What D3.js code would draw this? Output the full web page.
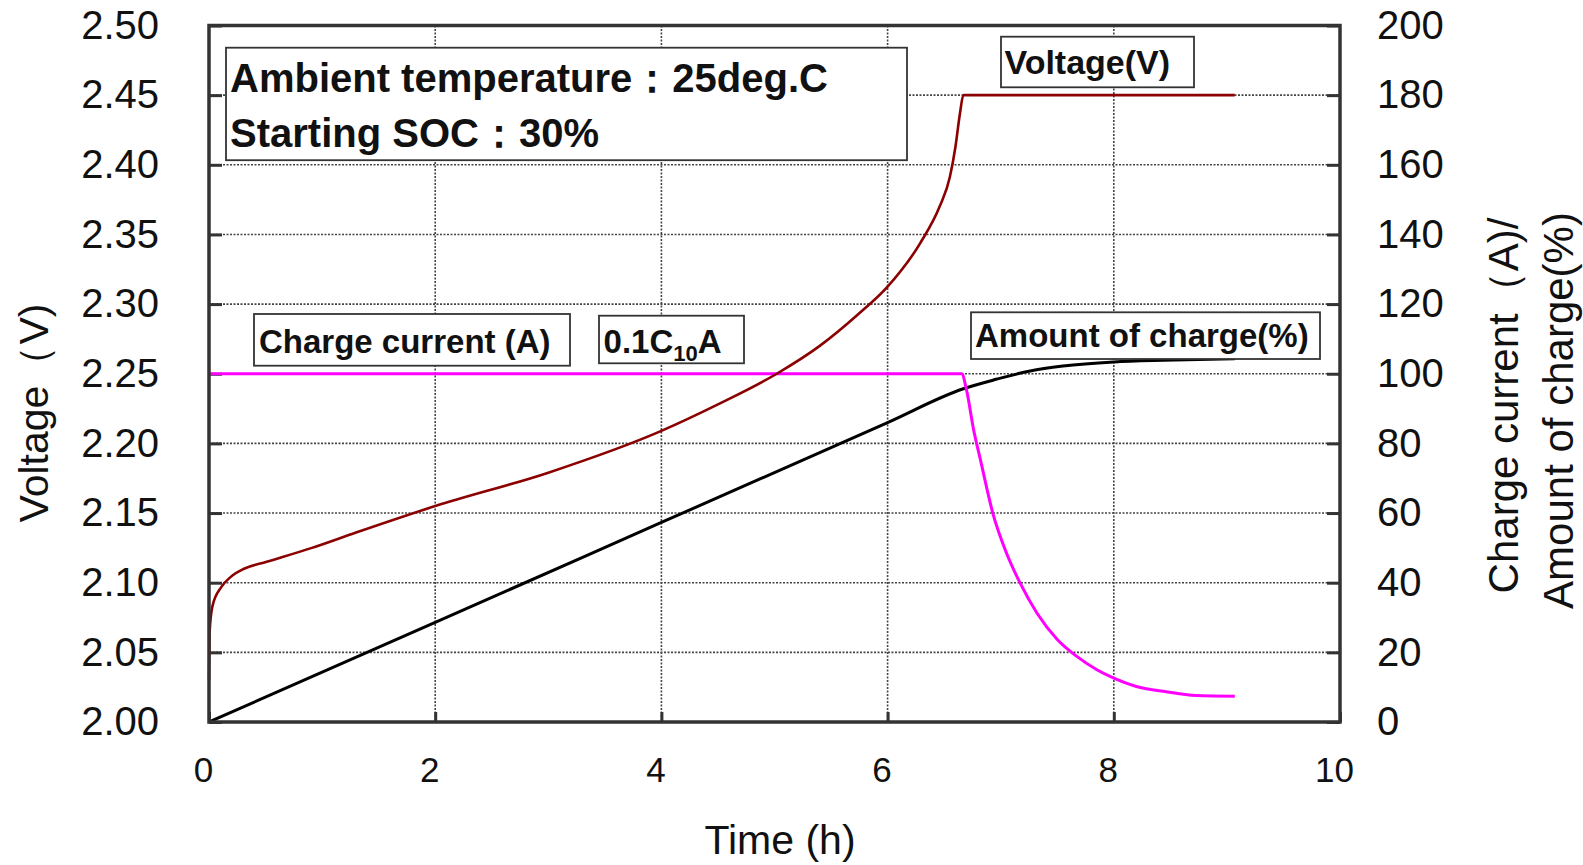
<!DOCTYPE html>
<html>
<head>
<meta charset="utf-8">
<script src="https://cdn.jsdelivr.net/npm/d3@7"></script>
<style>
  body { margin: 0; background: #fff; }
  text { font-family: "Liberation Sans", Arial, sans-serif; fill: #111; }
  .box-text { font-weight: bold; }
</style>
</head>
<body>
<div id="chart"></div>
<script>
// Voltage curve (h, V) - left axis
var voltTime = [0, 0.005, 0.03, 0.11, 0.19, 0.31, 0.51, 0.91, 1.3, 2.0, 3.0, 4.0, 4.5, 5.02, 5.4, 5.73, 6.0, 6.29, 6.46, 6.55, 6.6, 6.64, 6.67, 9.07];
var voltage  = [2.030, 2.064, 2.083, 2.097, 2.104, 2.110, 2.115, 2.125, 2.136, 2.155, 2.179, 2.209, 2.228, 2.250, 2.270, 2.292, 2.3125, 2.344, 2.370, 2.391, 2.413, 2.437, 2.450, 2.450];

// Charge current (h, A) - right axis
var currentTime = [0, 6.655, 6.70, 6.76, 6.82, 6.93, 7.05, 7.17, 7.32, 7.50, 7.67, 7.85, 8.0, 8.2, 8.44, 8.73, 9.07];
var current     = [100, 100, 95, 84, 75.4, 60, 48.6, 40, 31.3, 23.7, 18.9, 15.0, 12.6, 10.2, 8.8, 7.6, 7.4];

// Amount of charge (h, %) - right axis
var chargeTime = [0, 2, 4, 6, 6.67, 6.96, 7.26, 7.55, 8.0, 8.44, 9.07];
var charge     = [0, 28.6, 57.3, 86.0, 95.7, 98.4, 100.8, 102.2, 103.4, 103.9, 104.3];

// Tick values
var xTicks = [0, 2, 4, 6, 8, 10];
var leftTicks = [2.00, 2.05, 2.10, 2.15, 2.20, 2.25, 2.30, 2.35, 2.40, 2.45, 2.50];
var rightTicks = [0, 20, 40, 60, 80, 100, 120, 140, 160, 180, 200];

var svgWidth = 1583;
var svgHeight = 865;

var margin = {
  top: 25.5,
  right: 243,
  bottom: 143,
  left: 209
};

var width = svgWidth - margin.left - margin.right;
var height = svgHeight - margin.top - margin.bottom;

var svg = d3.select("#chart")
  .append("svg")
  .attr("width", svgWidth)
  .attr("height", svgHeight);

var chartGroup = svg.append("g")
  .attr("transform", `translate(${margin.left}, ${margin.top})`);

// scales
var xScale = d3.scaleLinear().domain([0, 10]).range([0, width]);
var yLeft = d3.scaleLinear().domain([2.0, 2.5]).range([height, 0]);
var yRight = d3.scaleLinear().domain([0, 200]).range([height, 0]);

// dotted grid
var grid = chartGroup.append("g").attr("class", "grid");
grid.selectAll(".hgrid")
  .data(leftTicks.slice(1, -1))
  .enter()
  .append("line")
  .attr("x1", 0)
  .attr("x2", width)
  .attr("y1", d => yLeft(d))
  .attr("y2", d => yLeft(d))
  .attr("stroke", "#444")
  .attr("stroke-width", 1.6)
  .attr("stroke-dasharray", "2,1.5");

grid.selectAll(".vgrid")
  .data(xTicks.slice(1, -1))
  .enter()
  .append("line")
  .attr("x1", d => xScale(d))
  .attr("x2", d => xScale(d))
  .attr("y1", 0)
  .attr("y2", height)
  .attr("stroke", "#444")
  .attr("stroke-width", 1.6)
  .attr("stroke-dasharray", "2,1.5");

// axes (inner ticks)
var leftAxis = d3.axisLeft(yLeft)
  .tickValues(leftTicks)
  .tickFormat(d3.format(".2f"))
  .tickSize(-13)
  .tickPadding(50);

var rightAxis = d3.axisRight(yRight)
  .tickValues(rightTicks)
  .tickFormat(d3.format("d"))
  .tickSize(-13)
  .tickPadding(37);

var bottomAxis = d3.axisBottom(xScale)
  .tickValues(xTicks)
  .tickFormat(d3.format("d"))
  .tickSize(-10)
  .tickPadding(35);

function styleAxis(g, size) {
  g.select(".domain").remove();
  g.selectAll(".tick line").attr("stroke", "#333").attr("stroke-width", 3);
  g.selectAll(".tick text")
    .attr("font-size", size + "px")
    .attr("fill", "#111");
}

var yAxisL = chartGroup.append("g").call(leftAxis);
styleAxis(yAxisL, 40);

var yAxisR = chartGroup.append("g")
  .attr("transform", `translate(${width}, 0)`)
  .call(rightAxis);
styleAxis(yAxisR, 40);

var xAxis = chartGroup.append("g")
  .attr("transform", `translate(0, ${height})`)
  .call(bottomAxis);
styleAxis(xAxis, 35);
xAxis.selectAll(".tick text").attr("dx", -6);

// lines
var voltData = voltTime.map((t, i) => [t, voltage[i]]);
var currentData = currentTime.map((t, i) => [t, current[i]]);
var chargeData = chargeTime.map((t, i) => [t, charge[i]]);

var voltLine = d3.line()
  .x(d => xScale(d[0]))
  .y(d => yLeft(d[1]))
  .curve(d3.curveMonotoneX);

var rightLine = d3.line()
  .x(d => xScale(d[0]))
  .y(d => yRight(d[1]))
  .curve(d3.curveMonotoneX);

chartGroup.append("path")
  .datum(chargeData)
  .attr("d", rightLine)
  .attr("fill", "none")
  .attr("stroke", "#000")
  .attr("stroke-width", 3);

chartGroup.append("path")
  .datum(currentData)
  .attr("d", rightLine)
  .attr("fill", "none")
  .attr("stroke", "#ff00ff")
  .attr("stroke-width", 3);

chartGroup.append("path")
  .datum(voltData)
  .attr("d", voltLine)
  .attr("fill", "none")
  .attr("stroke", "#8b0000")
  .attr("stroke-width", 2.6);

// plot frame
chartGroup.append("rect")
  .attr("x", 0)
  .attr("y", 0)
  .attr("width", width)
  .attr("height", height)
  .attr("fill", "none")
  .attr("stroke", "#333")
  .attr("stroke-width", 3.5);

// annotation boxes
function addBox(x, y, w, h) {
  chartGroup.append("rect")
    .attr("x", x)
    .attr("y", y)
    .attr("width", w)
    .attr("height", h)
    .attr("fill", "#fff")
    .attr("stroke", "#333")
    .attr("stroke-width", 1.8);
}

addBox(17, 22.2, 681, 112.5);
chartGroup.append("text")
  .attr("class", "box-text")
  .attr("x", 21)
  .attr("y", 66.5)
  .attr("font-size", "40px")
  .text("Ambient temperature：25deg.C");
chartGroup.append("text")
  .attr("class", "box-text")
  .attr("x", 21)
  .attr("y", 121.5)
  .attr("font-size", "40px")
  .text("Starting SOC：30%");

addBox(792, 11.2, 193, 50.6);
chartGroup.append("text")
  .attr("class", "box-text")
  .attr("x", 795.5)
  .attr("y", 48.5)
  .attr("font-size", "34px")
  .text("Voltage(V)");

addBox(45, 288.5, 316, 51.7);
chartGroup.append("text")
  .attr("class", "box-text")
  .attr("x", 50)
  .attr("y", 327.5)
  .attr("font-size", "33px")
  .text("Charge current (A)");

addBox(390, 290.2, 145, 47.6);
var cText = chartGroup.append("text")
  .attr("class", "box-text")
  .attr("x", 394.6)
  .attr("y", 327.5)
  .attr("font-size", "33px");
cText.append("tspan").text("0.1C");
cText.append("tspan").attr("font-size", "22px").attr("dy", 8).text("10");
cText.append("tspan").attr("dy", -8).text("A");

addBox(762, 286.8, 349, 46.7);
chartGroup.append("text")
  .attr("class", "box-text")
  .attr("x", 766)
  .attr("y", 321.2)
  .attr("font-size", "33px")
  .text("Amount of charge(%)");

// axis titles
chartGroup.append("text")
  .attr("x", 571)
  .attr("y", 828.5)
  .attr("text-anchor", "middle")
  .attr("font-size", "41px")
  .text("Time (h)");

chartGroup.append("text")
  .attr("transform", "rotate(-90)")
  .attr("x", -387.5)
  .attr("y", -161)
  .attr("text-anchor", "middle")
  .attr("font-size", "41px")
  .text("Voltage（V)");

var rTitle = chartGroup.append("text")
  .attr("transform", "rotate(-90)")
  .attr("text-anchor", "middle")
  .attr("font-size", "42px");
rTitle.append("tspan").attr("x", -380).attr("y", 1309).text("Charge current（A)/");
rTitle.append("tspan").attr("x", -385).attr("y", 1364).text("Amount of charge(%)");
</script>
</body>
</html>
